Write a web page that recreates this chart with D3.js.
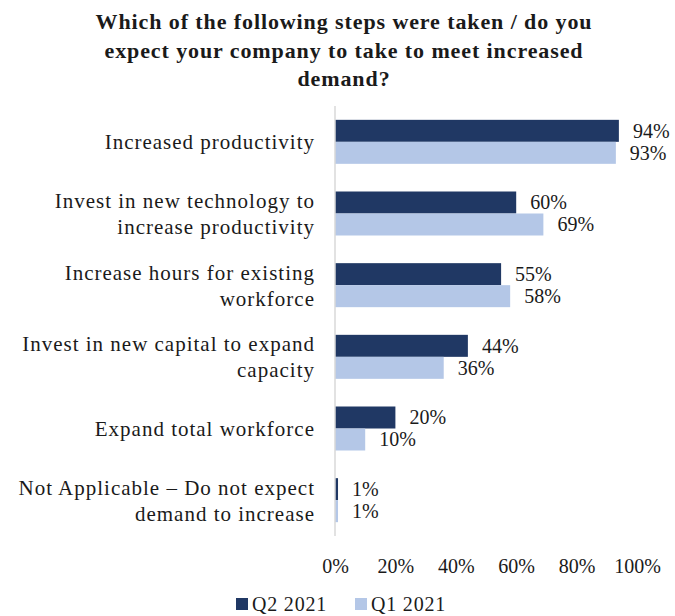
<!DOCTYPE html>
<html>
<head>
<meta charset="utf-8">
<script src="https://cdn.jsdelivr.net/npm/d3@7"></script>
<style>
  html, body { margin: 0; padding: 0; background: #fff; }
  svg text { font-family: "Liberation Serif", "Times New Roman", serif; fill: #1a1a1a; }
</style>
</head>
<body>
<svg id="chart" width="675" height="616"></svg>
<script>
// Survey answers, one entry per category (label lines kept as drawn)
const categories = [
  ["Increased productivity "],
  ["Invest in new technology to", "increase productivity"],
  ["Increase hours for existing", "workforce"],
  ["Invest in new capital to expand", "capacity"],
  ["Expand total workforce"],
  ["Not Applicable \u2013 Do not expect", "demand to increase"]
];
const seriesNames = ["Q2 2021", "Q1 2021"];
const q2_2021 = [94, 60, 55, 44, 20, 1];
const q1_2021 = [93, 69, 58, 36, 10, 1];
const xTicks = [0, 20, 40, 60, 80, 100];
const titleLines = [
  "Which of the following steps were taken / do you",
  "expect your company to take to meet increased",
  "demand?"
];

const colors = { "Q2 2021": "#203864", "Q1 2021": "#b4c7e7" };
const seriesValues = { "Q2 2021": q2_2021, "Q1 2021": q1_2021 };

const svg = d3.select("#chart");

// Title
svg.append("g").selectAll("text").data(titleLines).join("text")
  .attr("x", 344)
  .attr("y", (d, i) => 29 + i * 28.5)
  .attr("text-anchor", "middle")
  .attr("font-size", 22)
  .attr("letter-spacing", 0.9)
  .attr("font-weight", "bold")
  .text(d => d);

const x = d3.scaleLinear().domain([0, 100]).range([335, 637]);
const y = d3.scaleBand().domain(d3.range(categories.length))
  .range([106, 536]).paddingInner(0.386).paddingOuter(0.193);
const ySub = d3.scaleBand().domain(seriesNames).range([0, y.bandwidth()]);

// Bars
const groups = svg.append("g").selectAll("g").data(categories).join("g")
  .attr("transform", (d, i) => `translate(0,${y(i)})`);

groups.each(function (cat, i) {
  const g = d3.select(this);
  seriesNames.forEach(s => {
    const v = seriesValues[s][i];
    g.append("rect")
      .attr("x", x(0))
      .attr("y", ySub(s))
      .attr("width", x(v) - x(0))
      .attr("height", ySub.bandwidth())
      .attr("fill", colors[s]);
    g.append("text")
      .attr("x", x(v) + 14)
      .attr("y", ySub(s) + ySub.bandwidth() / 2)
      .attr("dy", "0.35em")
      .attr("font-size", 20)
      .text(v + "%");
  });
  // Category label, right aligned left of the axis
  const lh = 26;
  const n = cat.length;
  g.append("text")
    .attr("text-anchor", "end")
    .attr("font-size", 21)
    .attr("letter-spacing", 1)
    .selectAll("tspan").data(cat).join("tspan")
    .attr("x", 315)
    .attr("y", (d, k) => y.bandwidth() / 2 + (k - (n - 1) / 2) * lh)
    .attr("dy", "0.35em")
    .text(d => d);
});

// Vertical category axis line
svg.append("line")
  .attr("x1", x(0)).attr("x2", x(0))
  .attr("y1", y.range()[0]).attr("y2", y.range()[1])
  .attr("stroke", "#d9d9d9").attr("stroke-width", 1.5);

// Value axis: tick labels only
const xAxis = d3.axisBottom(x).tickValues(xTicks).tickFormat(d => d + "%").tickSize(0);
const ax = svg.append("g").attr("transform", "translate(0,556)").call(xAxis);
ax.select(".domain").remove();
ax.selectAll("text").attr("font-size", 20).attr("font-family", "Liberation Serif, serif").attr("fill", "#1a1a1a");

// Legend
const legendX = [236, 355];
const legend = svg.append("g").selectAll("g").data(seriesNames).join("g")
  .attr("transform", (d, i) => `translate(${legendX[i]},598)`);
legend.append("rect").attr("width", 12).attr("height", 12).attr("fill", d => colors[d]);
legend.append("text").attr("x", 16).attr("y", 6).attr("dy", "0.35em")
  .attr("font-size", 20).attr("letter-spacing", 0.8).text(d => d);
</script>
</body>
</html>
